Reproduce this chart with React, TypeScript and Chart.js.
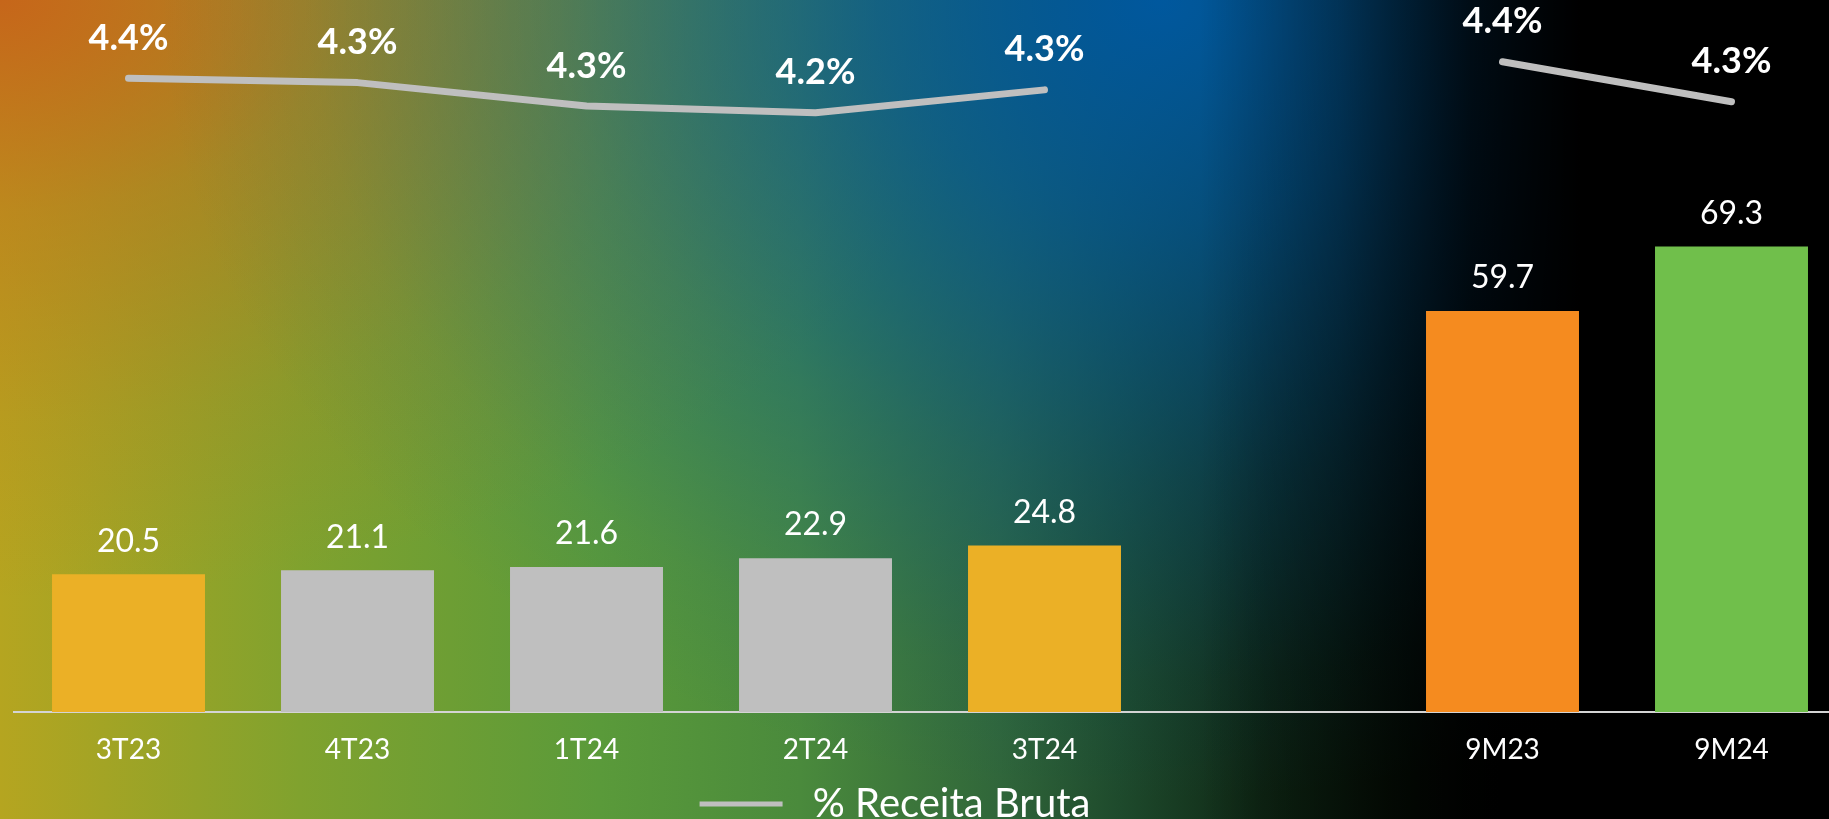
import React, { useEffect, useRef } from "react";
import { Chart, registerables } from "chart.js";

Chart.register(...registerables);

const categories = ["3T23", "4T23", "1T24", "2T24", "3T24", "", "9M23", "9M24"];
const revenueValues = [20.5, 21.1, 21.6, 22.9, 24.8, null, 59.7, 69.3];
const pctValues = [4.356, 4.341, 4.26, 4.237, 4.316, null, 4.413, 4.275];
const barColors = ["#EBB026", "#BFBFBF", "#BFBFBF", "#BFBFBF", "#EBB026", "#BFBFBF", "#F58B1F", "#70BF4B"];
const legendLabel = "% Receita Bruta";

const FONT = "Lato, 'Open Sans', sans-serif";

const labelsPlugin = {
  id: "valueLabels",
  afterDatasetsDraw(chart: any) {
    const ctx = chart.ctx;
    ctx.save();
    ctx.fillStyle = "#FFFFFF";
    ctx.textAlign = "center";
    ctx.textBaseline = "middle";
    chart.data.datasets.forEach((ds: any, di: number) => {
      const meta = chart.getDatasetMeta(di);
      meta.data.forEach((el: any, i: number) => {
        const v = ds.data[i];
        if (v === null || v === undefined) return;
        if (ds.type === "line") {
          ctx.font = `bold 36px ${FONT}`;
          ctx.fillText(v.toFixed(1) + "%", el.x, el.y - 40);
        } else {
          ctx.font = `32px ${FONT}`;
          ctx.fillText(v.toFixed(1), el.x, el.y - 33);
        }
      });
    });
    ctx.restore();
  },
};

const legendFitPlugin = {
  id: "legendFit",
  beforeInit(chart: any) {
    const legend = chart.legend;
    if (!legend) return;
    const orig = legend.fit;
    legend.fit = function () {
      orig.call(this);
      this.height = 57;
    };
  },
  afterLayout(chart: any) {
    const legend = chart.legend;
    if (!legend) return;
    legend.left -= 35;
    legend.right -= 35;
    legend.top += 16;
    legend.bottom += 16;
  },
};

export default function App() {
  const ref = useRef<HTMLCanvasElement>(null);
  useEffect(() => {
    if (!ref.current) return;
    const chart = new Chart(ref.current, {
      type: "bar",
      data: {
        labels: categories,
        datasets: [
          {
            type: "line",
            label: legendLabel,
            data: pctValues,
            yAxisID: "y2",
            borderColor: "#BFBFBF",
            backgroundColor: "#BFBFBF",
            borderWidth: 7,
            borderCapStyle: "round",
            borderJoinStyle: "round",
            pointRadius: 0,
            spanGaps: false,
            order: 0,
          } as any,
          {
            type: "bar",
            label: "Receita",
            data: revenueValues,
            yAxisID: "y",
            backgroundColor: barColors,
            categoryPercentage: 1,
            barPercentage: 0.668,
            order: 1,
          } as any,
        ],
      },
      options: {
        animation: false,
        responsive: false,
        layout: { padding: { left: 14, right: 0, top: 0, bottom: 0 } },
        plugins: {
          tooltip: { enabled: false },
          legend: {
            display: true,
            position: "bottom",
            labels: {
              color: "#FFFFFF",
              font: { family: FONT, size: 40 },
              boxWidth: 83,
              boxHeight: 5,
              padding: 6,
              generateLabels: () => [
                {
                  text: " " + legendLabel,
                  fillStyle: "#BFBFBF",
                  strokeStyle: "#BFBFBF",
                  lineWidth: 0,
                  hidden: false,
                  datasetIndex: 0,
                  fontColor: "#FFFFFF",
                } as any,
              ],
            },
          },
        },
        scales: {
          x: {
            grid: { display: false, drawTicks: false },
            border: { display: true, color: "#D4D4D4", width: 2 },
            ticks: { color: "#FFFFFF", font: { family: FONT, size: 28 }, padding: 21, maxRotation: 0, autoSkip: false },
            afterFit: (scale: any) => {
              scale.height = 50;
            },
          },
          y: { display: false, min: 0, max: 106 },
          y2: { display: false, min: 2.17, max: 4.626 },
        },
      },
      plugins: [labelsPlugin, legendFitPlugin],
    });
    return () => chart.destroy();
  }, []);

  const bg = [
    "linear-gradient(to right, rgba(0,0,0,0) 0px, rgba(0,0,0,0) 1200px, rgba(0,0,0,0.35) 1340px, rgba(0,0,0,0.8) 1470px, #000 1580px)",
    "radial-gradient(ellipse 1000px 800px at 1160px 0px, rgba(0,88,158,1) 0%, rgba(0,88,158,0.72) 28%, rgba(0,88,158,0.32) 60%, rgba(0,88,158,0.08) 85%, rgba(0,88,158,0) 100%)",
    "radial-gradient(ellipse 1000px 600px at 0px 0px, rgba(198,102,26,1) 0%, rgba(198,102,26,0.45) 35%, rgba(198,102,26,0.15) 70%, rgba(198,102,26,0) 100%)",
    "linear-gradient(to right, #B5A520 0px, #80A22E 300px, #5A9A3A 600px, #4A8A3C 800px, #30663A 1000px, #1E4A2C 1120px, #0E2614 1264px, #051005 1410px, #000 1500px)",
  ].join(", ");

  return (
    <div style={{ position: "fixed", left: 0, top: 0, width: "100vw", height: "100vh", overflow: "hidden", background: bg }}>
      <div style={{ position: "relative", width: 1846, height: 819 }}>
        <canvas ref={ref} width={1846} height={819} />
      </div>
    </div>
  );
}
